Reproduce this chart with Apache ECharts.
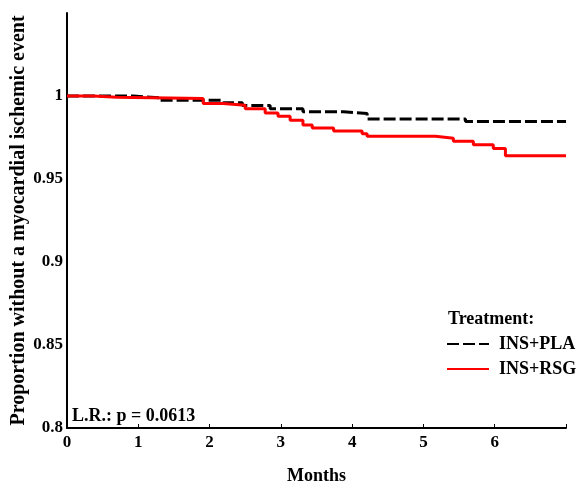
<!DOCTYPE html>
<html>
<head>
<meta charset="utf-8">
<script src="https://cdn.jsdelivr.net/npm/echarts@6/dist/echarts.min.js"></script>
<style>html,body{margin:0;padding:0;background:#fff}#c{width:576px;height:483px}</style>
</head>
<body>
<div id="c"></div>
<script>
var plaMonths = [0, 0.93, 1.31, 2.19, 2.46, 2.85, 3.31, 3.88, 4.21, 5.59, 7.0];
var plaValues = [1.0, 0.9989, 0.9975, 0.9959, 0.9943, 0.9923, 0.9905, 0.9894, 0.9862, 0.9846, 0.9846];
var rsgMonths = [0, 0.37, 0.70, 1.91, 2.19, 2.50, 2.78, 2.96, 3.13, 3.31, 3.44, 3.74, 4.14, 4.21, 5.17, 5.42, 5.70, 5.98, 6.15, 7.0];
var rsgValues = [1.0, 0.9993, 0.9985, 0.9955, 0.9944, 0.9923, 0.9898, 0.9878, 0.9854, 0.9825, 0.9807, 0.9789, 0.9773, 0.9758, 0.9746, 0.9728, 0.9707, 0.9683, 0.9640, 0.9640];
var seriesNames = ['INS+PLA', 'INS+RSG'];
var xTickLabels = ['0', '1', '2', '3', '4', '5', '6'];
var yTickLabels = ['0.8', '0.85', '0.9', '0.95', '1'];

function pairs(xs, ys) { return xs.map(function (x, i) { return [x, ys[i]]; }); }
var FONT = '"Liberation Serif", "Times New Roman", serif';
var chart = echarts.init(document.getElementById('c'));
chart.setOption({
  animation: false,
  grid: { left: 67, right: 10, top: 13, bottom: 55, containLabel: false, outerBoundsMode: 'none' },
  xAxis: {
    type: 'value', min: 0, max: 7, interval: 1,
    name: 'Months', nameLocation: 'middle', nameGap: 39, nameMoveOverlap: false,
    nameTextStyle: { fontFamily: FONT, fontWeight: 'bold', fontSize: 18, color: '#000' },
    axisLine: { lineStyle: { color: '#000', width: 2 } },
    axisTick: { show: true, inside: true, length: 4, lineStyle: { color: '#000' } },
    axisLabel: {
      fontFamily: FONT, fontWeight: 'bold', fontSize: 17, color: '#000', margin: 6,
      formatter: function (v) { var i = Math.round(v); return (i >= 0 && i < xTickLabels.length) ? xTickLabels[i] : ''; }
    },
    splitLine: { show: false }
  },
  yAxis: {
    type: 'value', min: 0.8, max: 1.05, interval: 0.05,
    name: 'Proportion without a myocardial ischemic event', nameLocation: 'middle', nameGap: 38, nameMoveOverlap: false,
    nameTextStyle: { fontFamily: FONT, fontWeight: 'bold', fontSize: 20, color: '#000' },
    axisLine: { lineStyle: { color: '#000', width: 2 } },
    axisTick: { show: false },
    axisLabel: {
      fontFamily: FONT, fontWeight: 'bold', fontSize: 17, color: '#000', margin: 4,
      formatter: function (v) { var i = Math.round((v - 0.8) / 0.05); return (i >= 0 && i < yTickLabels.length) ? yTickLabels[i] : ''; }
    },
    splitLine: { show: false }
  },
  title: [
    { text: 'Treatment:', left: 443, top: 305, textStyle: { fontFamily: FONT, fontWeight: 'bold', fontSize: 18, color: '#000' } },
    { text: 'L.R.: p = 0.0613', left: 67, top: 402, textStyle: { fontFamily: FONT, fontWeight: 'bold', fontSize: 18, color: '#000' } }
  ],
  legend: {
    orient: 'vertical', left: 446, top: 335, itemWidth: 42, itemHeight: 14, itemGap: 7, padding: 0,
    itemStyle: { opacity: 0 },
    textStyle: { fontFamily: FONT, fontWeight: 'bold', fontSize: 18, color: '#000', padding: [0, 0, 0, 5] },
    data: seriesNames
  },
  series: [
    {
      name: seriesNames[0], type: 'line', step: 'end', showSymbol: false, symbol: 'none',
      data: pairs(plaMonths, plaValues), z: 3,
      lineStyle: { color: '#000', width: 3, type: [12, 4] }, itemStyle: { color: '#000' }
    },
    {
      name: seriesNames[1], type: 'line', step: 'end', showSymbol: false, symbol: 'none',
      data: pairs(rsgMonths, rsgValues), z: 4,
      lineStyle: { color: '#ff0000', width: 3 }, itemStyle: { color: '#ff0000' }
    }
  ]
});
</script>
</body>
</html>
